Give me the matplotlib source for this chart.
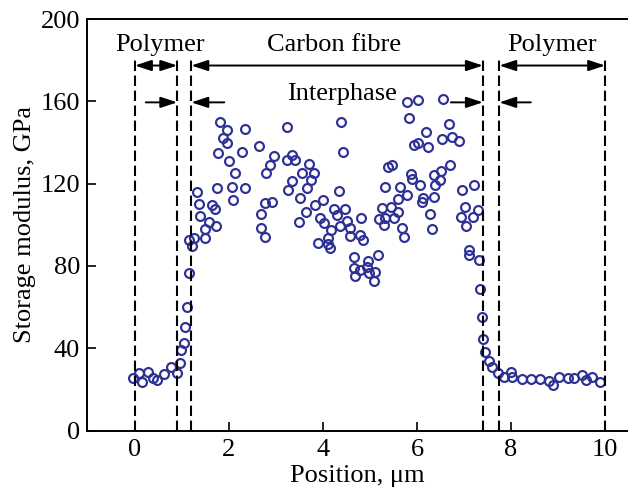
import matplotlib
matplotlib.use('Agg')
import matplotlib.pyplot as plt
import numpy as np

plt.rcParams['font.family'] = ['Liberation Serif', 'DejaVu Serif']
plt.rcParams['mathtext.fontset'] = 'stix'

# measured positions (um) and storage modulus (GPa)
position = [
    -0.04, 0.09, 0.16, 0.28, 0.39, 0.47, 0.62, 0.77, 0.90, 0.96, 0.98, 1.05, 1.06, 1.10, 1.15,
    1.14, 1.21, 1.26, 1.31, 1.36, 1.38,
    1.74, 2.06, 2.34, 1.63, 1.70, 2.09, 2.77, 2.91, 2.68, 1.57, 1.72, 1.49, 2.68, 2.77, 1.50,
    1.81, 1.95, 1.88, 1.95, 2.35, 3.23, 2.64, 1.77, 2.28, 1.99, 2.96, 2.87, 2.79, 3.23, 2.13,
    4.38, 4.42, 5.39, 3.33, 3.41, 3.70, 3.56, 3.81, 3.74, 3.33, 3.66, 4.33, 3.26, 3.51, 4.01,
    3.83, 3.63, 3.49, 4.24, 4.47, 4.29, 3.94, 4.03, 4.52, 4.81, 4.36, 4.18, 4.57, 4.11, 4.57,
    4.79, 4.86, 3.90, 4.10, 4.15, 5.25, 5.20, 5.32, 5.29, 4.65, 5.18, 4.96, 4.65, 4.79, 4.93,
    5.11, 4.98, 4.68, 5.09, 5.32,
    5.78, 6.01, 6.56, 5.82, 6.67, 6.18, 6.54, 6.74, 6.89, 5.94, 6.03, 6.23, 5.46, 6.70, 5.87,
    5.89, 6.52, 6.35, 6.49, 7.21, 5.64, 6.06, 6.38, 6.95,
    5.78, 5.60, 6.13, 6.10, 6.35, 7.01, 5.45, 7.29, 5.60, 6.28, 6.94, 7.18, 5.50, 7.04, 5.67,
    5.73, 6.31, 7.11, 7.11, 7.32, 7.34,
    7.38, 7.40, 7.45, 7.52, 7.59, 7.72, 7.84, 8.00, 8.03, 8.23, 8.43, 8.62, 8.81, 8.90, 9.01,
    9.21, 9.33, 9.50, 9.59, 9.72, 9.89,
]
modulus = [
    25.5, 28.2, 23.8, 28.7, 25.8, 24.6, 27.6, 30.8, 27.9, 32.8, 39.2, 42.5, 50.3, 60.0, 76.5,
    92.7, 89.5, 93.8, 116.0, 110.2, 104.2,
    117.8, 118.6, 118.1, 109.7, 107.6, 112.2, 110.8, 111.0, 105.3, 101.6, 99.5, 97.9, 98.7, 94.2, 93.8,
    149.9, 146.2, 142.1, 140.0, 146.5, 147.4, 138.1, 134.9, 135.6, 131.1, 133.5, 129.2, 125.4, 131.3, 125.1,
    149.9, 135.2, 128.3, 134.0, 131.3, 129.5, 125.1, 125.1, 121.9, 121.1, 118.0, 116.5, 117.0, 113.0, 112.2,
    109.4, 106.2, 101.6, 107.8, 107.8, 104.9, 103.3, 100.8, 101.9, 103.3, 99.2, 97.6, 98.7, 93.8, 94.7,
    95.1, 92.4, 91.1, 90.6, 88.7, 108.1, 102.9, 103.3, 100.0, 84.6, 85.1, 82.5, 79.0, 78.1, 79.7,
    77.0, 76.5, 75.2, 72.8, 118.6,
    159.6, 160.8, 161.3, 151.9, 149.0, 144.9, 141.7, 142.5, 140.5, 138.9, 139.7, 137.6, 129.2, 129.2, 124.6,
    122.4, 126.3, 124.0, 121.9, 119.4, 118.6, 119.4, 119.4, 117.0,
    114.6, 112.6, 113.0, 111.0, 113.5, 108.9, 108.9, 107.3, 106.0, 105.2, 104.0, 104.0, 103.5, 99.2, 98.7,
    94.3, 97.9, 87.8, 85.1, 83.0, 68.6,
    55.1, 44.4, 38.4, 33.9, 30.8, 27.9, 26.3, 28.7, 26.3, 25.1, 25.1, 25.0, 24.3, 22.2, 26.0,
    25.8, 25.5, 27.1, 24.6, 26.3, 23.5,
]

# region boundaries (um)
boundaries = [0, 0.9, 1.2, 7.4, 7.75, 10]

fig = plt.figure(figsize=(6.28, 4.95), dpi=100)
ax = fig.add_axes([0.1385, 0.130, 0.8625, 0.8316])

ax.plot(position, modulus, 'o', linestyle='none', markersize=6.4,
        markerfacecolor='none', markeredgecolor='#2d3194', markeredgewidth=1.55)

for b in boundaries:
    ax.plot([b, b], [0, 181], color='k', lw=1.5, dashes=(5, 2.2))

arrow_kw = dict(color='k', lw=1.4, shrinkA=0, shrinkB=0, mutation_scale=10)
two_way = dict(arrowstyle='<|-|>,head_length=1.0,head_width=0.33', **arrow_kw)
one_way = dict(arrowstyle='-|>,head_length=1.0,head_width=0.33', **arrow_kw)

y_top = 177.4
ax.annotate('', xy=(0.9, y_top), xytext=(0, y_top), arrowprops=two_way)
ax.annotate('', xy=(7.4, y_top), xytext=(1.2, y_top), arrowprops=two_way)
ax.annotate('', xy=(10, y_top), xytext=(7.75, y_top), arrowprops=two_way)

y_low = 159.5
ax.annotate('', xy=(0.9, y_low), xytext=(0.23, y_low), arrowprops=one_way)
ax.annotate('', xy=(1.2, y_low), xytext=(1.9, y_low), arrowprops=one_way)
ax.annotate('', xy=(7.4, y_low), xytext=(6.72, y_low), arrowprops=one_way)
ax.annotate('', xy=(7.75, y_low), xytext=(8.42, y_low), arrowprops=one_way)

ax.text(0.53, 184.3, 'Polymer', ha='center', va='baseline', fontsize=19)
ax.text(4.23, 184.3, 'Carbon fibre', ha='center', va='baseline', fontsize=19)
ax.text(8.87, 184.3, 'Polymer', ha='center', va='baseline', fontsize=19)
ax.text(4.40, 160.5, 'Interphase', ha='center', va='baseline', fontsize=19)

ax.set_xlim(-1.02, 10.5)
ax.set_ylim(0, 200)
ax.set_xticks([0, 2, 4, 6, 8, 10])
ax.set_yticks([0, 40, 80, 120, 160, 200])
ax.tick_params(direction='in', length=6.5, width=1.2, labelsize=19, pad=5)
ax.tick_params(axis='x', pad=6)
for s in ax.spines.values():
    s.set_linewidth(1.4)

ax.set_xlabel('Position, μm', fontsize=19, labelpad=3)
ax.set_ylabel('Storage modulus, GPa', fontsize=19, labelpad=3)

plt.savefig('out.png', dpi=100)
plt.close(fig)
